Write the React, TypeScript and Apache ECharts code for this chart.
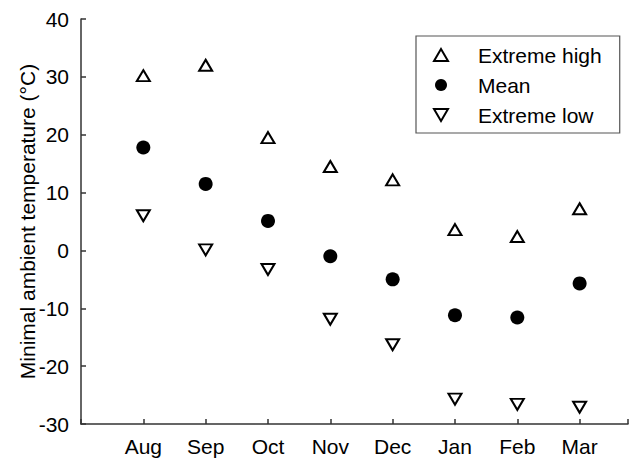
import React, { useEffect, useRef } from "react";
import * as echarts from "echarts";

// Months shown along the bottom axis, placed at positions 1..8
const months = ["Aug", "Sep", "Oct", "Nov", "Dec", "Jan", "Feb", "Mar"];

// Minimal ambient temperature per month (°C)
const extremeHigh = [30.2, 32.0, 19.5, 14.5, 12.2, 3.6, 2.4, 7.2];
const meanTemp = [17.8, 11.5, 5.1, -1.0, -5.0, -11.2, -11.6, -5.7];
const extremeLow = [6.0, 0.1, -3.3, -11.9, -16.3, -25.7, -26.6, -27.1];

const yTicks = { min: -30, max: 40, interval: 10 };

const FONT = "'Liberation Sans', Arial, sans-serif";

// The month axis runs past the right edge of the canvas
const X_MAX = 8.776;

const DOWN_TRIANGLE = "path://M0,0L2,0L1,1.7Z";

export default function App() {
  const ref = useRef<HTMLDivElement>(null);

  useEffect(() => {
    if (!ref.current) return;
    const chart = echarts.init(ref.current, undefined, { renderer: "svg" });

    const toPoints = (arr: number[]) => arr.map((v, i) => [i + 1, v]);

    const openMarker = {
      color: "#ffffff",
      borderColor: "#000000",
      borderWidth: 2,
      opacity: 1,
    };

    chart.setOption({
      animation: false,
      backgroundColor: "#ffffff",
      textStyle: { fontFamily: FONT },
      grid: { left: 81, top: 19, right: 0, height: 405, containLabel: false },
      xAxis: {
        type: "value",
        min: 0,
        max: X_MAX,
        interval: 1,
        axisLine: { onZero: false, lineStyle: { color: "#333", width: 1.5 } },
        axisTick: { inside: true, length: 5, lineStyle: { color: "#333", width: 1.5 } },
        axisLabel: {
          color: "#000",
          fontSize: 21,
          fontFamily: FONT,
          margin: 12,
          showMinLabel: true,
          showMaxLabel: true,
          formatter: (v: number) =>
            Number.isInteger(v) && v >= 1 && v <= months.length ? months[v - 1] : "",
        },
        splitLine: { show: false },
      },
      yAxis: {
        type: "value",
        min: yTicks.min,
        max: yTicks.max,
        interval: yTicks.interval,
        name: "Minimal ambient temperature (°C)",
        nameLocation: "middle",
        nameGap: 43,
        nameMoveOverlap: false,
        nameTextStyle: { color: "#000", fontSize: 21, fontFamily: FONT },
        axisLine: { show: true, lineStyle: { color: "#333", width: 1.5 } },
        axisTick: { show: true, inside: true, length: 5, lineStyle: { color: "#333", width: 1.5 } },
        axisLabel: { color: "#000", fontSize: 21, fontFamily: FONT, margin: 12 },
        splitLine: { show: false },
      },
      legend: {
        left: 416,
        top: 36,
        orient: "vertical",
        itemWidth: 14,
        itemHeight: 12,
        itemGap: 6,
        padding: [7, 18, 6, 17],
        borderColor: "#555",
        borderWidth: 1.2,
        backgroundColor: "#fff",
        textStyle: {
          color: "#000",
          fontSize: 21,
          fontFamily: FONT,
          lineHeight: 24,
          padding: [0, 0, 0, 25],
        },
        data: [
          { name: "Extreme high", icon: "triangle", itemStyle: openMarker },
          { name: "Mean", icon: "circle", itemStyle: { color: "#000", borderWidth: 0, opacity: 1 } },
          { name: "Extreme low", icon: DOWN_TRIANGLE, itemStyle: openMarker },
        ],
      },
      series: [
        {
          name: "Extreme high",
          type: "scatter",
          data: toPoints(extremeHigh),
          symbol: "triangle",
          symbolSize: [13, 11],
          itemStyle: openMarker,
        },
        {
          name: "Mean",
          type: "scatter",
          data: toPoints(meanTemp),
          symbol: "circle",
          symbolSize: 14,
          itemStyle: { color: "#000", opacity: 1 },
        },
        {
          name: "Extreme low",
          type: "scatter",
          data: toPoints(extremeLow),
          symbol: "triangle",
          symbolRotate: 180,
          symbolSize: [13, 11],
          itemStyle: openMarker,
        },
      ],
    });

    return () => chart.dispose();
  }, []);

  return (
    <div
      ref={ref}
      style={{ position: "absolute", left: 0, top: 0, width: 631, height: 460 }}
    />
  );
}
